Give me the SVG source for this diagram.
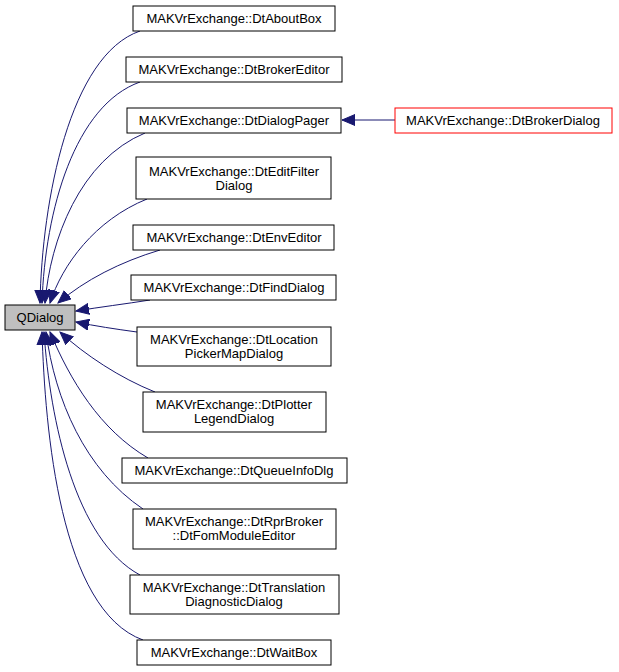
<svg xmlns="http://www.w3.org/2000/svg" width="619" height="672" viewBox="0 0 619 672">
<style>
.n{fill:#fff;stroke:#000;stroke-width:1}
.r{fill:#fff;stroke:#f00;stroke-width:1}
.g{fill:#bfbfbf;stroke:#000;stroke-width:1}
text{font-family:"Liberation Sans",Arial,sans-serif;font-size:13px;text-anchor:middle;fill:#000}
.e{fill:none;stroke:#191970;stroke-width:1}
</style>
<defs><marker id="a" markerWidth="14" markerHeight="12" refX="13" refY="6" orient="auto" markerUnits="userSpaceOnUse"><path d="M0,0.5 L13,6 L0,11.5 Z" fill="#191970" stroke="#191970"/></marker></defs>
<rect width="619" height="672" fill="#fff"/>
<g id="edges">
<path class="e" marker-end="url(#a)" d="M140,31 C70,55 42,200 40,303"/>
<path class="e" marker-end="url(#a)" d="M140,82 C75,105 45,210 42,303"/>
<path class="e" marker-end="url(#a)" d="M145,133 C80,160 50,240 45,303"/>
<path class="e" marker-end="url(#a)" d="M147,199 C95,220 62,265 50,303"/>
<path class="e" marker-end="url(#a)" d="M160,250 C120,262 85,280 58,303"/>
<path class="e" marker-end="url(#a)" d="M150,300 C125,304 100,307 76,311"/>
<path class="e" marker-end="url(#a)" d="M137,332 C115,329 95,326 76,322"/>
<path class="e" marker-end="url(#a)" d="M155,392 C120,378 85,355 60,332"/>
<path class="e" marker-end="url(#a)" d="M148,458 C100,430 70,380 50,332"/>
<path class="e" marker-end="url(#a)" d="M143,509 C85,470 55,400 46,332"/>
<path class="e" marker-end="url(#a)" d="M140,575 C75,540 50,420 44,332"/>
<path class="e" marker-end="url(#a)" d="M143,640 C60,610 45,430 42,332"/>
<path class="e" marker-end="url(#a)" d="M395,120 L342,120"/>
</g>
<g id="QDialog"><rect class="g" x="5" y="305" width="70" height="25"/><text x="40" y="322">QDialog</text></g>
<g id="n1"><rect class="n" x="133" y="6" width="202" height="25"/><text x="234" y="23">MAKVrExchange::DtAboutBox</text></g>
<g id="n2"><rect class="n" x="126" y="57" width="216" height="25"/><text x="234" y="74">MAKVrExchange::DtBrokerEditor</text></g>
<g id="n3"><rect class="n" x="127" y="108" width="214" height="25"/><text x="234" y="125">MAKVrExchange::DtDialogPager</text></g>
<g id="n4"><rect class="n" x="136" y="157" width="195" height="42"/><text x="234" y="176">MAKVrExchange::DtEditFilter</text><text x="234" y="190">Dialog</text></g>
<g id="n5"><rect class="n" x="133" y="225" width="201" height="25"/><text x="234" y="242">MAKVrExchange::DtEnvEditor</text></g>
<g id="n6"><rect class="n" x="131" y="275" width="205" height="25"/><text x="234" y="292">MAKVrExchange::DtFindDialog</text></g>
<g id="n7"><rect class="n" x="137" y="327" width="194" height="39"/><text x="234" y="344">MAKVrExchange::DtLocation</text><text x="234" y="358">PickerMapDialog</text></g>
<g id="n8"><rect class="n" x="143" y="392" width="183" height="40"/><text x="234" y="409">MAKVrExchange::DtPlotter</text><text x="234" y="423">LegendDialog</text></g>
<g id="n9"><rect class="n" x="122" y="458" width="225" height="25"/><text x="234" y="475">MAKVrExchange::DtQueueInfoDlg</text></g>
<g id="n10"><rect class="n" x="133" y="509" width="203" height="40"/><text x="234" y="526">MAKVrExchange::DtRprBroker</text><text x="234" y="540">::DtFomModuleEditor</text></g>
<g id="n11"><rect class="n" x="130" y="575" width="209" height="39"/><text x="234" y="592">MAKVrExchange::DtTranslation</text><text x="234" y="606">DiagnosticDialog</text></g>
<g id="n12"><rect class="n" x="137" y="640" width="194" height="25"/><text x="234" y="657">MAKVrExchange::DtWaitBox</text></g>
<g id="n13"><rect class="r" x="395" y="108" width="217" height="25"/><text x="503" y="125">MAKVrExchange::DtBrokerDialog</text></g>
</svg>
